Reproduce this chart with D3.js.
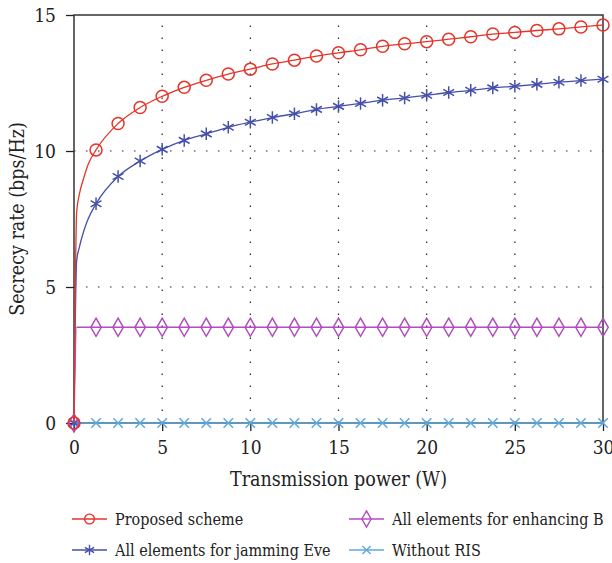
<!DOCTYPE html>
<html lang="en">
<head>
<meta charset="UTF-8">
<title>Secrecy rate</title>
<script src="https://d3js.org/d3.v7.min.js"></script>
<style>
  body { margin: 0; background: #fff; }
  svg text { font-stretch: condensed; }
  .grid line { stroke: #222; stroke-dasharray: 1.5 10.5; stroke-width: 1.2; }
</style>
</head>
<body>
<script>
  const width = 612, height = 563;
  const margin = {left: 74, right: 9, top: 15, bottom: 140};
  const serif = "'DejaVu Serif Condensed', 'DejaVu Serif', serif";

  // x positions of the markers (W)
  const markerP = [0, 1.25, 2.5, 3.75, 5, 6.25, 7.5, 8.75, 10, 11.25, 12.5, 13.75, 15,
                   16.25, 17.5, 18.75, 20, 21.25, 22.5, 23.75, 25, 26.25, 27.5, 28.75, 30];
  // extra points near zero for the steep rise
  const nearP = [0, 0.15, 0.3, 0.55, 0.8, 1.25];

  const proposedNear = [0, 7.75, 8.4, 9.0, 9.5, 10.04];
  const proposed = [0, 10.04, 11.01, 11.6, 12.01, 12.34, 12.6, 12.83, 13.01, 13.2, 13.34, 13.49, 13.61,
                    13.72, 13.85, 13.94, 14.02, 14.11, 14.2, 14.3, 14.36, 14.43, 14.49, 14.56, 14.63];

  const jammingNear = [0, 5.95, 6.45, 7.05, 7.5, 8.06];
  const jamming = [0, 8.06, 9.06, 9.63, 10.06, 10.39, 10.63, 10.87, 11.06, 11.23, 11.37, 11.53, 11.64,
                   11.75, 11.87, 11.95, 12.05, 12.15, 12.23, 12.32, 12.38, 12.45, 12.53, 12.59, 12.64];

  const enhancingNear = [0, 3.52, 3.52, 3.52, 3.52, 3.52];
  const enhancing = [0, 3.52, 3.52, 3.52, 3.52, 3.52, 3.52, 3.52, 3.52, 3.52, 3.52, 3.52, 3.52,
                     3.52, 3.52, 3.52, 3.52, 3.52, 3.52, 3.52, 3.52, 3.52, 3.52, 3.52, 3.52];

  const withoutRIS = [0, 0, 0, 0, 0, 0, 0, 0, 0, 0, 0, 0, 0,
                      0, 0, 0, 0, 0, 0, 0, 0, 0, 0, 0, 0];

  const xTicks = [0, 5, 10, 15, 20, 25, 30];
  const yTicks = [0, 5, 10, 15];

  const series = [
    {name: "Proposed scheme", color: "#e5342a", marker: "circle", near: proposedNear, vals: proposed},
    {name: "All elements for enhancing B", color: "#b24cc0", marker: "diamond", near: enhancingNear, vals: enhancing},
    {name: "All elements for jamming Eve", color: "#4650aa", marker: "star", near: jammingNear, vals: jamming},
    {name: "Without RIS", color: "#5fa8dc", marker: "cross", near: [0, 0, 0, 0, 0, 0], vals: withoutRIS}
  ];

  const x = d3.scaleLinear().domain([0, 30]).range([margin.left, width - margin.right]);
  const y = d3.scaleLinear().domain([0, 15]).range([height - margin.bottom, margin.top]);

  const svg = d3.select("body").append("svg").attr("width", width).attr("height", height);

  // grid
  svg.append("g").attr("class", "grid")
     .selectAll("line").data([5, 10, 15, 20, 25]).enter().append("line")
     .attr("x1", d => x(d)).attr("x2", d => x(d))
     .attr("y1", y(0)).attr("y2", y(15));
  svg.append("g").attr("class", "grid")
     .selectAll("line").data([5, 10]).enter().append("line")
     .attr("y1", d => y(d)).attr("y2", d => y(d))
     .attr("x1", x(0)).attr("x2", x(30));

  // axes
  const xAxis = svg.append("g").attr("transform", `translate(0,${y(0)})`)
     .call(d3.axisBottom(x).tickValues(xTicks).tickSize(8).tickPadding(10));
  const yAxis = svg.append("g").attr("transform", `translate(${x(0)},0)`)
     .call(d3.axisLeft(y).tickValues(yTicks).tickSize(8).tickPadding(10));
  [xAxis, yAxis].forEach(a => {
    a.attr("font-family", serif).attr("font-size", 19);
    a.select(".domain").remove();
    a.selectAll(".tick line").attr("stroke", "#222").attr("stroke-width", 1.3);
    a.selectAll(".tick text").attr("fill", "#222");
  });

  // box
  svg.append("rect").attr("x", x(0)).attr("y", y(15))
     .attr("width", x(30) - x(0)).attr("height", y(0) - y(15))
     .attr("fill", "none").attr("stroke", "#333").attr("stroke-width", 1.5);

  svg.append("text").attr("x", (x(0) + x(30)) / 2).attr("y", 486)
     .attr("font-family", serif).attr("fill", "#222")
     .attr("text-anchor", "middle").attr("font-size", 19.5).text("Transmission power (W)");
  svg.append("text").attr("transform", `translate(24,${(y(0) + y(15)) / 2}) rotate(-90)`)
     .attr("font-family", serif).attr("fill", "#222")
     .attr("text-anchor", "middle").attr("font-size", 19.5).text("Secrecy rate (bps/Hz)");

  const symbols = {
    circle: d3.symbol().type(d3.symbolCircle).size(113),
    diamond: d3.symbol().type(d3.symbolDiamond).size(95),
    star: d3.symbol().type(d3.symbolAsterisk).size(110),
    cross: d3.symbol().type(d3.symbolTimes).size(60)
  };
  const legendSymbols = {
    circle: d3.symbol().type(d3.symbolCircle).size(75),
    diamond: d3.symbol().type(d3.symbolDiamond).size(75),
    star: d3.symbol().type(d3.symbolAsterisk).size(80),
    cross: d3.symbol().type(d3.symbolTimes).size(45)
  };

  const line = d3.line().x(d => x(d[0])).y(d => y(d[1])).curve(d3.curveMonotoneX);

  const plot = svg.append("g");
  // draw in reverse so proposed is on top
  series.slice().reverse().forEach(s => {
    const pts = nearP.map((p, i) => [p, s.near[i]])
      .concat(markerP.slice(2).map((p, i) => [p, s.vals[i + 2]]));
    plot.append("path").datum(pts)
      .attr("d", line).attr("fill", "none")
      .attr("stroke", s.color).attr("stroke-width", 1.3);
    plot.selectAll(null).data(markerP.map((p, i) => [p, s.vals[i]])).enter()
      .append("path")
      .attr("transform", d => `translate(${x(d[0])},${y(d[1])})`)
      .attr("d", symbols[s.marker])
      .attr("fill", "none").attr("stroke", s.color).attr("stroke-width", 1.5);
  });

  // legend
  const legendPos = [[72, 519], [349, 519], [72, 550], [349, 550]];
  series.forEach((s, i) => {
    const [lx, ly] = legendPos[i];
    const g = svg.append("g").attr("transform", `translate(${lx},${ly})`);
    g.append("line").attr("x1", 0).attr("x2", 35).attr("y1", 0).attr("y2", 0)
      .attr("stroke", s.color).attr("stroke-width", 1.3);
    g.append("path").attr("transform", "translate(17.5,0)")
      .attr("d", legendSymbols[s.marker]).attr("fill", "none")
      .attr("stroke", s.color).attr("stroke-width", 1.4);
    g.append("text").attr("x", 43).attr("y", 6).attr("font-family", serif).attr("fill", "#222")
      .attr("font-size", 16).text(s.name);
  });
</script>
</body>
</html>
